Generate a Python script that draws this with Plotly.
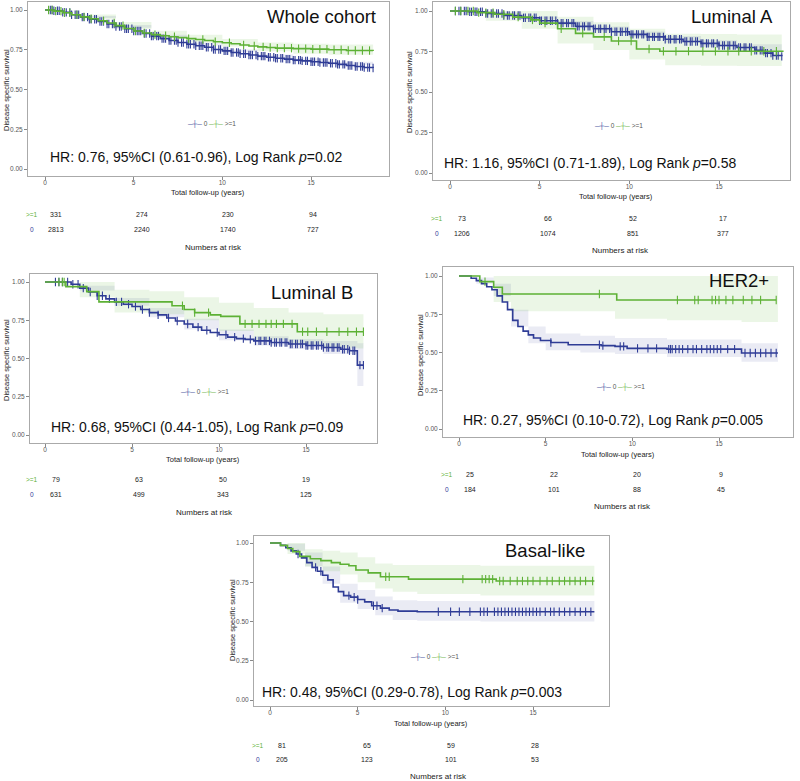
import numpy as np
import plotly.graph_objects as go

BLUE = '#2F3C96'
GREEN = '#5DB135'
BLUE_CI = 'rgba(47,60,150,0.10)'
GREEN_CI = 'rgba(93,177,53,0.12)'
FONT = 'Liberation Sans, Arial, sans-serif'
W, H = 800, 781

# ---------------- data ----------------
# Whole cohort
wc_t0 = [0, 0.5, 1.0, 1.5, 2.0, 2.5, 3.0, 3.5, 4.0, 4.5, 5.0, 5.5, 6.0, 6.5, 7.0, 7.5, 8.0, 8.5, 9.0, 9.5,
         10.0, 10.5, 11.0, 11.5, 12.0, 12.5, 13.0, 13.5, 14.0, 14.5, 15.0, 15.5, 16.0, 16.5, 17.0, 17.5, 18.0, 18.5]
wc_s0 = [1.0, 0.995, 0.985, 0.97, 0.955, 0.942, 0.928, 0.912, 0.896, 0.882, 0.868, 0.852, 0.836, 0.82, 0.808,
         0.796, 0.785, 0.775, 0.766, 0.752, 0.743, 0.733, 0.725, 0.717, 0.71, 0.703, 0.697, 0.691, 0.685, 0.68,
         0.675, 0.67, 0.665, 0.658, 0.651, 0.645, 0.638, 0.635]
wc_t1 = [0, 0.5, 1.0, 1.5, 2.0, 2.5, 3.0, 3.5, 4.0, 4.5, 5.0, 5.5, 6.0, 6.5, 7.0, 7.5, 8.0, 8.5, 9.0, 9.5,
         10.0, 10.5, 11.0, 11.5, 12.0, 12.5, 13.0, 14.0, 15.0, 16.0, 17.0, 18.5]
wc_s1 = [1.0, 0.993, 0.983, 0.97, 0.957, 0.945, 0.932, 0.918, 0.902, 0.884, 0.868, 0.855, 0.845, 0.838, 0.832,
         0.826, 0.82, 0.814, 0.808, 0.8, 0.794, 0.788, 0.78, 0.774, 0.768, 0.764, 0.76, 0.757, 0.754, 0.75,
         0.745, 0.742]
wc_c0 = [0.3, 0.4, 0.5, 0.7, 0.8, 1.0, 1.1, 1.2, 1.4, 1.5, 1.7, 1.8, 1.9, 2.1, 2.2, 2.4, 2.5, 2.6, 2.8, 2.9,
         3.1, 3.2, 3.3, 3.5, 3.6, 3.8, 3.9, 4.0, 4.2, 4.3, 4.5, 4.6, 4.7, 4.9, 5.0, 5.2, 5.3, 5.4, 5.6, 5.7,
         5.9, 6.0, 6.1, 6.3, 6.4, 6.6, 6.7, 6.8, 7.0, 7.1, 7.3, 7.4, 7.5, 7.7, 7.8, 8.0, 8.1, 8.2, 8.4, 8.5,
         8.7, 8.8, 8.9, 9.1, 9.2, 9.4, 9.5, 9.6, 9.8, 9.9, 10.1, 10.2, 10.3, 10.5, 10.6, 10.8, 10.9, 11.0,
         11.2, 11.3, 11.5, 11.6, 11.7, 11.9, 12.0, 12.2, 12.3, 12.4, 12.6, 12.7, 12.9, 13.0, 13.1, 13.3, 13.4,
         13.6, 13.7, 13.8, 14.0, 14.1, 14.3, 14.4, 14.5, 14.7, 14.8, 15.0, 15.1, 15.2, 15.4, 15.5, 15.7, 15.8,
         15.9, 16.1, 16.2, 16.4, 16.5, 16.6, 16.8, 16.9, 17.1, 17.2, 17.3, 17.5, 17.6, 17.8, 17.9, 18.0, 18.2,
         18.3, 18.5]
wc_c1 = [0.2, 0.4, 0.6, 0.9, 1.1, 1.4, 1.8, 2.2, 2.6, 3.3, 3.9, 4.4, 5.1, 5.6, 6.2, 6.8, 7.3, 8.1, 8.9, 9.6,
         10.4, 11.2, 11.8, 12.3, 12.7, 13.1, 13.5, 13.9, 14.3, 14.7, 15.1, 15.5, 15.9, 16.3, 16.7, 17.1, 17.5,
         17.9, 18.3]
wc_ci_t = [0, 2, 4, 6, 8, 10, 12, 14, 16, 18.5]
wc_lo0 = [1.0, 0.95, 0.889, 0.828, 0.777, 0.735, 0.70, 0.675, 0.655, 0.625]
wc_hi0 = [1.0, 0.962, 0.905, 0.845, 0.794, 0.752, 0.72, 0.695, 0.675, 0.647]
wc_lo1 = [1.0, 0.94, 0.88, 0.82, 0.795, 0.77, 0.74, 0.725, 0.718, 0.71]
wc_hi1 = [1.0, 0.972, 0.925, 0.87, 0.845, 0.818, 0.795, 0.788, 0.783, 0.775]
wc_risk1 = ['331', '274', '230', '94']
wc_risk0 = ['2813', '2240', '1740', '727']

# Luminal A
la_t0 = [0, 1, 2, 3, 4, 5, 6, 7, 8, 9, 10, 11, 12, 13, 14, 15, 16, 17, 17.5, 18, 18.5]
la_s0 = [1.0, 0.995, 0.985, 0.972, 0.958, 0.94, 0.925, 0.905, 0.89, 0.872, 0.856, 0.84, 0.826, 0.812, 0.8,
         0.787, 0.775, 0.757, 0.74, 0.725, 0.72]
la_t1 = [0, 1.5, 2.5, 3.5, 4.5, 5.0, 6.0, 7.0, 8.0, 9.0, 10.4, 11.7, 18.6]
la_s1 = [1.0, 0.99, 0.98, 0.962, 0.945, 0.925, 0.89, 0.862, 0.84, 0.815, 0.765, 0.752, 0.752]
la_c0 = [0.3, 0.5, 0.6, 0.8, 0.9, 1.1, 1.2, 1.4, 1.5, 1.7, 1.8, 2.0, 2.1, 2.3, 2.4, 2.6, 2.7, 2.9, 3.0, 3.2,
         3.3, 3.5, 3.6, 3.8, 3.9, 4.1, 4.2, 4.4, 4.5, 4.7, 4.8, 5.0, 5.1, 5.3, 5.4, 5.6, 5.7, 5.9, 6.0, 6.2,
         6.3, 6.5, 6.6, 6.8, 6.9, 7.1, 7.2, 7.4, 7.5, 7.7, 7.8, 8.0, 8.1, 8.3, 8.4, 8.6, 8.7, 8.9, 9.0, 9.2,
         9.3, 9.5, 9.6, 9.8, 9.9, 10.1, 10.2, 10.4, 10.5, 10.7, 10.8, 11.0, 11.1, 11.3, 11.4, 11.6, 11.7,
         11.9, 12.0, 12.2, 12.3, 12.5, 12.6, 12.8, 12.9, 13.1, 13.2, 13.4, 13.5, 13.7, 13.8, 14.0, 14.1, 14.3,
         14.4, 14.6, 14.7, 14.9, 15.0, 15.2, 15.3, 15.5, 15.6, 15.8, 15.9, 16.1, 16.2, 16.4, 16.5, 16.7, 16.8,
         17.0, 17.1, 17.3, 17.4, 17.6, 17.7, 17.9, 18.0, 18.2, 18.3, 18.5]
la_c1 = [0.3, 0.6, 1.0, 1.3, 1.6, 2.0, 2.4, 3.0, 3.8, 4.6, 5.3, 6.2, 7.4, 8.6, 9.4, 10.1, 11.1, 11.9, 12.6,
         13.3, 14.1, 14.8, 15.5, 16.1, 16.8, 17.5, 18.2]
la_ci_t = [0, 2, 4, 6, 8, 10, 12, 14, 16, 18.5]
la_lo0 = [1.0, 0.978, 0.948, 0.912, 0.875, 0.838, 0.806, 0.78, 0.755, 0.695]
la_hi0 = [1.0, 0.992, 0.968, 0.938, 0.905, 0.874, 0.846, 0.82, 0.795, 0.745]
la_lo1 = [1.0, 0.94, 0.89, 0.8, 0.76, 0.7, 0.665, 0.662, 0.66, 0.66]
la_hi1 = [1.0, 1.0, 1.0, 0.965, 0.93, 0.89, 0.86, 0.858, 0.855, 0.855]
la_risk1 = ['73', '66', '52', '17']
la_risk0 = ['1206', '1074', '851', '377']

# Luminal B
lb_t0 = [0, 1.5, 2.0, 2.5, 3.0, 3.5, 4.0, 4.5, 5.0, 5.5, 6.0, 6.5, 7.0, 7.5, 8.0, 8.5, 9.0, 9.5, 10.0, 10.5,
         11.0, 11.5, 12.0, 13.0, 14.0, 15.0, 16.0, 17.0, 17.5, 17.95, 18.3]
lb_s0 = [1.0, 0.985, 0.96, 0.935, 0.91, 0.89, 0.87, 0.855, 0.84, 0.82, 0.8, 0.785, 0.765, 0.745, 0.725, 0.705,
         0.685, 0.67, 0.655, 0.64, 0.63, 0.625, 0.615, 0.605, 0.595, 0.585, 0.572, 0.56, 0.551, 0.457, 0.457]
lb_t1 = [0, 1.2, 2.4, 3.1, 7.3, 8.0, 8.6, 9.5, 10.1, 11.2, 14.5, 18.3]
lb_s1 = [1.0, 0.97, 0.937, 0.87, 0.845, 0.82, 0.8, 0.785, 0.775, 0.726, 0.675, 0.675]
lb_c0 = [0.6, 0.8, 1.0, 1.3, 1.6, 1.9, 2.2, 2.6, 3.0, 3.3, 3.7, 4.1, 4.4, 4.8, 5.2, 5.6, 6.0, 6.5, 7.1, 7.6,
         8.2, 8.8, 9.3, 9.9, 10.4, 10.9, 11.4, 11.8, 12.1, 12.3, 12.4, 12.6, 12.7, 12.9, 13.0, 13.2, 13.3,
         13.5, 13.6, 13.8, 13.9, 14.1, 14.2, 14.4, 14.5, 14.7, 14.8, 15.0, 15.1, 15.3, 15.4, 15.6, 15.7, 15.9,
         16.0, 16.2, 16.3, 16.5, 16.6, 16.8, 16.9, 17.1, 17.2, 17.4, 17.5, 17.7, 17.8, 18.1, 18.3]
lb_c1 = [0.8, 1.0, 1.1, 7.9, 8.6, 9.4, 11.5, 11.9, 12.3, 12.7, 13.0, 13.3, 13.7, 14.2, 14.8, 15.1, 15.6, 16.2,
         16.9, 17.4, 17.9, 18.3]
lb_ci_t = [0, 2, 4, 6, 8, 10, 12, 14, 16, 17.95, 18.3]
lb_lo0 = [1.0, 0.945, 0.845, 0.77, 0.69, 0.62, 0.585, 0.562, 0.53, 0.32, 0.3]
lb_hi0 = [1.0, 0.975, 0.895, 0.83, 0.76, 0.69, 0.645, 0.628, 0.615, 0.6, 0.6]
lb_lo1 = [1.0, 0.9, 0.8, 0.79, 0.75, 0.68, 0.62, 0.59, 0.57, 0.565, 0.565]
lb_hi1 = [1.0, 1.0, 0.95, 0.94, 0.9, 0.865, 0.83, 0.8, 0.79, 0.79, 0.79]
lb_risk1 = ['79', '63', '50', '19']
lb_risk0 = ['631', '499', '343', '125']

# HER2+
he_t0 = [0, 0.7, 1.0, 1.3, 1.6, 1.9, 2.2, 2.5, 2.8, 3.1, 3.4, 3.7, 4.0, 4.3, 4.7, 5.3, 6.3, 8.2, 9.0, 9.7,
         12.0, 16.3, 18.4]
he_s0 = [1.0, 0.985, 0.97, 0.95, 0.93, 0.91, 0.87, 0.83, 0.78, 0.71, 0.67, 0.64, 0.615, 0.595, 0.578, 0.565,
         0.551, 0.545, 0.54, 0.527, 0.522, 0.497, 0.497]
he_t1 = [0, 1.2, 2.0, 2.5, 9.1, 18.3]
he_s1 = [1.0, 0.963, 0.926, 0.882, 0.843, 0.843]
he_c0 = [5.3, 8.1, 8.3, 9.3, 9.5, 10.3, 10.9, 11.4, 12.1, 12.2, 12.3, 12.5, 12.7, 12.9, 13.2, 13.5, 13.7, 14.0,
         14.3, 14.5, 14.7, 14.9, 15.1, 15.5, 15.9, 16.5, 16.8, 17.1, 17.4, 17.7, 18.0, 18.3]
he_c1 = [1.5, 8.1, 12.6, 13.6, 13.8, 14.6, 14.8, 15.0, 15.4, 15.8, 16.4, 16.9, 17.4, 18.3]
he_ci_t = [0, 1, 2, 3, 4, 5, 7, 9, 12, 16.3, 18.4]
he_lo0 = [1.0, 0.95, 0.87, 0.67, 0.56, 0.515, 0.5, 0.49, 0.47, 0.44, 0.44]
he_hi0 = [1.0, 0.99, 0.95, 0.78, 0.67, 0.625, 0.61, 0.595, 0.585, 0.56, 0.56]
he_lo1 = [1.0, 1.0, 0.83, 0.77, 0.77, 0.77, 0.77, 0.72, 0.71, 0.7, 0.7]
he_hi1 = [1.0, 1.0, 1.0, 1.0, 1.0, 1.0, 1.0, 1.0, 1.0, 1.0, 1.0]
he_risk1 = ['25', '22', '20', '9']
he_risk0 = ['184', '101', '88', '45']

# Basal-like
ba_t0 = [0, 0.6, 0.9, 1.2, 1.5, 1.8, 2.1, 2.4, 2.7, 3.0, 3.3, 3.6, 3.9, 4.2, 4.6, 5.0, 5.4, 5.8, 6.3, 6.8,
         7.3, 8.4, 18.5]
ba_s0 = [1.0, 0.985, 0.97, 0.95, 0.93, 0.905, 0.875, 0.845, 0.82, 0.795, 0.765, 0.72, 0.69, 0.665, 0.655,
         0.64, 0.625, 0.6, 0.585, 0.573, 0.566, 0.562, 0.562]
ba_t1 = [0, 0.6, 1.0, 1.3, 1.7, 2.3, 2.9, 3.5, 4.0, 4.5, 4.9, 5.6, 6.3, 7.9, 12.9, 18.5]
ba_s1 = [1.0, 0.985, 0.965, 0.945, 0.915, 0.9, 0.888, 0.875, 0.865, 0.855, 0.828, 0.81, 0.785, 0.77, 0.758,
         0.758]
ba_c0 = [1.6, 2.6, 2.9, 4.5, 4.8, 5.0, 5.9, 6.1, 6.4, 9.6, 10.3, 10.8, 11.4, 12.0, 12.2, 12.4, 12.8, 13.0,
         13.2, 13.4, 13.6, 13.8, 14.0, 14.2, 14.4, 14.6, 14.8, 15.0, 15.2, 15.4, 15.7, 16.0, 16.2, 16.5, 16.8,
         17.1, 17.4, 17.7, 18.0, 18.3]
ba_c1 = [6.6, 6.8, 11.0, 12.1, 12.3, 12.5, 12.7, 13.1, 13.3, 13.7, 14.1, 14.4, 14.7, 15.0, 15.4, 15.8, 16.1,
         16.5, 16.8, 17.1, 17.4, 17.7, 18.0, 18.4]
ba_ci_t = [0, 1, 2, 3, 4, 5, 6, 7, 8.4, 12, 18.5]
ba_lo0 = [1.0, 0.95, 0.85, 0.74, 0.62, 0.58, 0.54, 0.51, 0.505, 0.5, 0.5]
ba_hi0 = [1.0, 0.995, 0.94, 0.85, 0.74, 0.7, 0.66, 0.635, 0.63, 0.63, 0.63]
ba_lo1 = [1.0, 0.93, 0.85, 0.82, 0.8, 0.75, 0.71, 0.69, 0.675, 0.665, 0.665]
ba_hi1 = [1.0, 1.0, 0.96, 0.95, 0.94, 0.91, 0.87, 0.86, 0.86, 0.855, 0.855]
ba_risk1 = ['81', '65', '59', '28']
ba_risk0 = ['205', '123', '101', '53']

panel_titles = ['Whole cohort', 'Luminal A', 'Luminal B', 'HER2+', 'Basal-like']
hr_texts = [
    'HR: 0.76, 95%CI (0.61-0.96), Log Rank <i>p</i>=0.02',
    'HR: 1.16, 95%CI (0.71-1.89), Log Rank <i>p</i>=0.58',
    'HR: 0.68, 95%CI (0.44-1.05), Log Rank <i>p</i>=0.09',
    'HR: 0.27, 95%CI (0.10-0.72), Log Rank <i>p</i>=0.005',
    'HR: 0.48, 95%CI (0.29-0.78), Log Rank <i>p</i>=0.003',
]
x_ticks = [0, 5, 10, 15]
y_ticks = [0, 0.25, 0.5, 0.75, 1.0]
y_tick_text = ['0.00', '0.25', '0.50', '0.75', '1.00']

series = [
    (wc_t0, wc_s0, wc_c0, wc_t1, wc_s1, wc_c1, wc_ci_t, wc_lo0, wc_hi0, wc_lo1, wc_hi1, wc_risk0, wc_risk1),
    (la_t0, la_s0, la_c0, la_t1, la_s1, la_c1, la_ci_t, la_lo0, la_hi0, la_lo1, la_hi1, la_risk0, la_risk1),
    (lb_t0, lb_s0, lb_c0, lb_t1, lb_s1, lb_c1, lb_ci_t, lb_lo0, lb_hi0, lb_lo1, lb_hi1, lb_risk0, lb_risk1),
    (he_t0, he_s0, he_c0, he_t1, he_s1, he_c1, he_ci_t, he_lo0, he_hi0, he_lo1, he_hi1, he_risk0, he_risk1),
    (ba_t0, ba_s0, ba_c0, ba_t1, ba_s1, ba_c1, ba_ci_t, ba_lo0, ba_hi0, ba_lo1, ba_hi1, ba_risk0, ba_risk1),
]

# ---------------- layout geometry (pixels) ----------------
# frame left, right, top, bottom; pixel of x=0, x=15; pixel of y=1, y=0
geo = [
    dict(l=28, r=389, t=2, b=176, x0=45, x15=311, y1=10, y0=169,
         title=(378, 16), hr=(196, 157), leg=(211, 124), ytitle=(6, 90), xtitle=(208, 193),
         rows=(214, 229), risk_x=[56, 142, 228, 313], lab_x=32, nar=(213, 247)),
    dict(l=433, r=790, t=2, b=180, x0=450, x15=719, y1=11, y0=173,
         title=(775, 16), hr=(590, 163), leg=(618, 126), ytitle=(410, 92), xtitle=(616, 196),
         rows=(218, 233), risk_x=[462, 548, 633, 723], lab_x=437, nar=(620, 251)),
    dict(l=30, r=377, t=274, b=443, x0=45, x15=306, y1=282, y0=435,
         title=(355, 292), hr=(197, 427), leg=(205, 392), ytitle=(6, 360), xtitle=(203, 459),
         rows=(479, 494), risk_x=[56, 139, 223, 306], lab_x=32, nar=(205, 512)),
    dict(l=443, r=793, t=267, b=437, x0=459, x15=719, y1=276, y0=429,
         title=(771, 281), hr=(613, 420), leg=(620, 387), ytitle=(420, 355), xtitle=(618, 454),
         rows=(474, 489), risk_x=[470, 554, 637, 721], lab_x=447, nar=(622, 506)),
    dict(l=254, r=609, t=536, b=706, x0=270, x15=533, y1=543, y0=700,
         title=(587, 550), hr=(412, 692), leg=(434, 657), ytitle=(232, 620), xtitle=(431, 723),
         rows=(745, 759), risk_x=[282, 367, 451, 535], lab_x=258, nar=(438, 776)),
]


def px(x):
    return x / W


def py(y):
    return 1 - y / H


def step_at(t, s, c):
    t = np.asarray(t)
    s = np.asarray(s)
    idx = np.searchsorted(t, np.asarray(c), side='right') - 1
    return s[np.clip(idx, 0, len(s) - 1)]


def note(x, y, text, size, color='#222222', xanchor='center', angle=0):
    return dict(x=px(x), y=py(y), xref='paper', yref='paper', text=text,
                xanchor=xanchor, yanchor='middle', showarrow=False, textangle=angle,
                font=dict(size=size, color=color, family=FONT))


fig = go.Figure()
annotations = []
layout_axes = {}

for i, (g, d) in enumerate(zip(geo, series)):
    k = i + 1
    xa = 'x' if k == 1 else f'x{k}'
    ya = 'y' if k == 1 else f'y{k}'
    t0, s0, c0, t1, s1, c1, ci_t, lo0, hi0, lo1, hi1, risk0, risk1 = d

    # confidence bands
    for lo, hi, col in [(lo0, hi0, BLUE_CI), (lo1, hi1, GREEN_CI)]:
        fig.add_trace(go.Scatter(x=ci_t, y=lo, mode='lines', line=dict(width=0, shape='hv'),
                                 xaxis=xa, yaxis=ya, showlegend=False, hoverinfo='skip'))
        fig.add_trace(go.Scatter(x=ci_t, y=hi, mode='lines', line=dict(width=0, shape='hv'),
                                 fill='tonexty', fillcolor=col,
                                 xaxis=xa, yaxis=ya, showlegend=False, hoverinfo='skip'))

    # survival steps + censor marks
    for t, s, c, col in [(t0, s0, c0, BLUE), (t1, s1, c1, GREEN)]:
        fig.add_trace(go.Scatter(x=t, y=s, mode='lines', line=dict(color=col, width=1.6, shape='hv'),
                                 xaxis=xa, yaxis=ya, showlegend=False))
        fig.add_trace(go.Scatter(x=c, y=step_at(t, s, c), mode='markers',
                                 marker=dict(symbol='line-ns', size=6, line=dict(color=col, width=1.1)),
                                 xaxis=xa, yaxis=ya, showlegend=False))

    ppx = (g['x15'] - g['x0']) / 15
    ppy = g['y0'] - g['y1']
    xr = [(g['l'] - g['x0']) / ppx, (g['r'] - g['x0']) / ppx]
    yr = [-(g['b'] - g['y0']) / ppy, 1 + (g['y1'] - g['t']) / ppy]
    axis_common = dict(showline=True, mirror=True, linecolor='#AAAAAA', linewidth=1,
                       showgrid=False, zeroline=False, ticks='outside', ticklen=3,
                       tickcolor='#888888', tickfont=dict(size=6.5, color='#555555', family=FONT))
    layout_axes['xaxis' if k == 1 else f'xaxis{k}'] = dict(
        domain=[px(g['l']), px(g['r'])], range=xr, anchor=ya,
        tickvals=x_ticks, ticklabelstandoff=-3, **axis_common)
    layout_axes['yaxis' if k == 1 else f'yaxis{k}'] = dict(
        domain=[py(g['b']), py(g['t'])], range=yr, anchor=xa,
        tickvals=y_ticks, ticktext=y_tick_text, **axis_common)

    # texts
    annotations.append(note(*g['title'], panel_titles[i], 18.5, '#111111', xanchor='right'))
    annotations.append(note(*g['hr'], hr_texts[i], 14, '#111111'))
    annotations.append(note(*g['leg'],
                            f"<span style='color:{BLUE}'>─┼─</span> 0 "
                            f"<span style='color:{GREEN}'>─┼─</span> &gt;=1", 6.5, '#555555'))
    annotations.append(note(*g['ytitle'], 'Disease specific survival', 7.5, angle=-90))
    annotations.append(note(*g['xtitle'], 'Total follow-up (years)', 7.5))
    annotations.append(note(*g['nar'], 'Numbers at risk', 8))
    # risk table
    for row_y, lab, col, vals in [(g['rows'][0], '&gt;=1', GREEN, risk1), (g['rows'][1], '0', BLUE, risk0)]:
        annotations.append(note(g['lab_x'], row_y, lab, 6.5, col))
        for xv, v in zip(g['risk_x'], vals):
            annotations.append(note(xv, row_y, v, 7))

fig.update_layout(
    width=W, height=H,
    margin=dict(l=0, r=0, t=0, b=0),
    plot_bgcolor='white', paper_bgcolor='white',
    showlegend=False,
    hovermode=False,
    annotations=annotations,
    font=dict(family=FONT),
    **layout_axes
)

# the page's default 8px body margin would shift the whole picture
fig.write_html("out.html", config={'displayModeBar': False},
               post_script="document.body.style.margin='0';document.body.style.overflow='hidden';")
